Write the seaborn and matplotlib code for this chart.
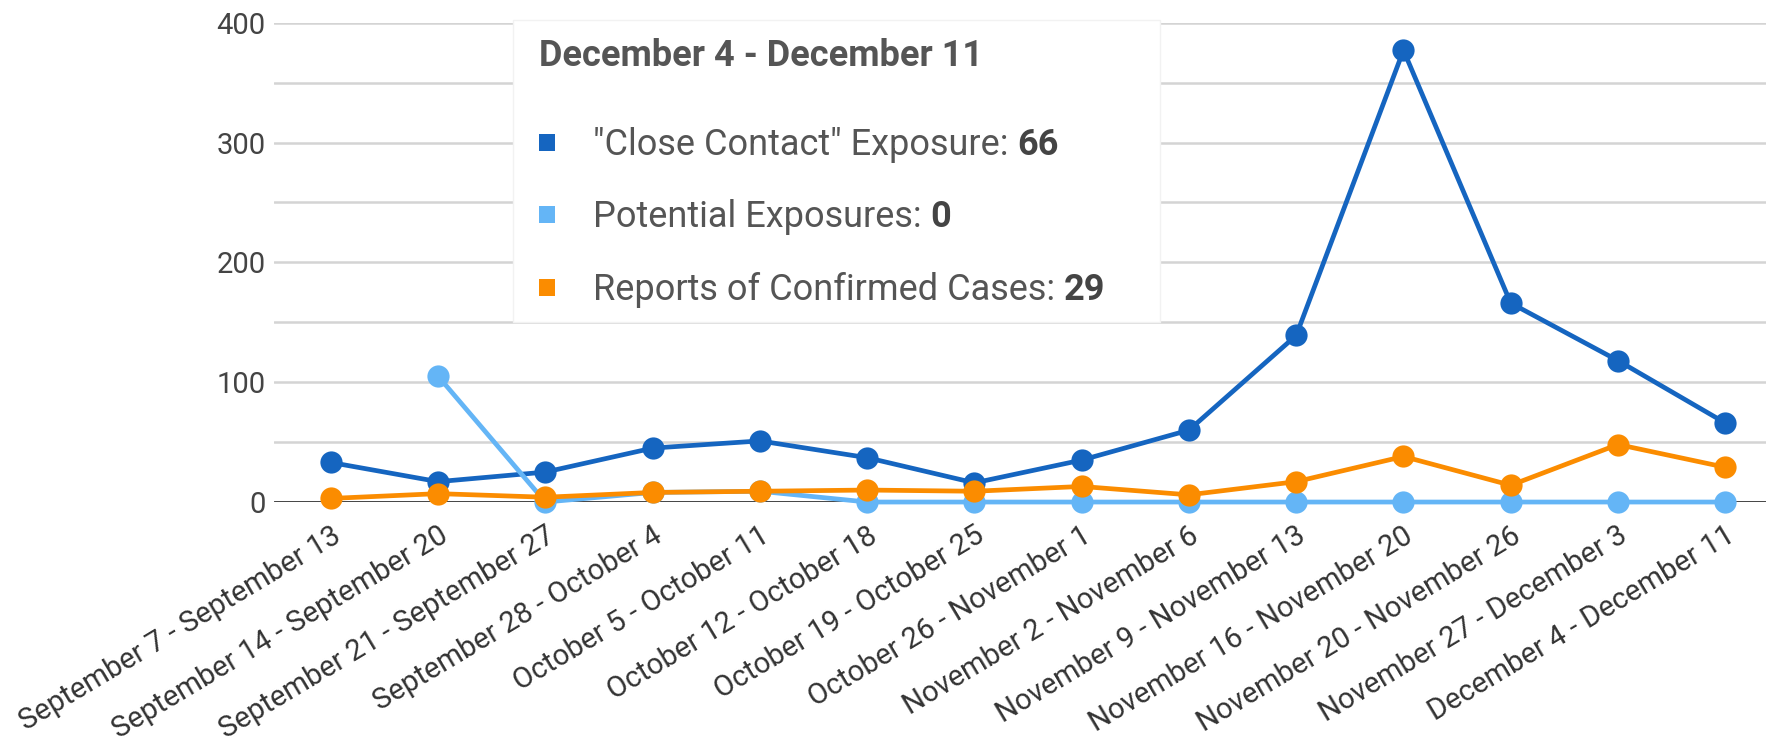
import numpy as np
import pandas as pd
import matplotlib
matplotlib.use("Agg")
import matplotlib.pyplot as plt
from matplotlib.patches import Rectangle
import seaborn as sns

# ==============================================================================
# DATA
# ==============================================================================

weeks = [
    "September 7 - September 13", "September 14 - September 20",
    "September 21 - September 27", "September 28 - October 4",
    "October 5 - October 11", "October 12 - October 18",
    "October 19 - October 25", "October 26 - November 1",
    "November 2 - November 6", "November 9 - November 13",
    "November 16 - November 20", "November 20 - November 26",
    "November 27 - December 3", "December 4 - December 11",
]
close_contact = [33, 17, 25, 45, 51, 37, 16, 35, 60, 139, 377, 166, 118, 66]
potential = [np.nan, 105, 0, 8, 9, 0, 0, 0, 0, 0, 0, 0, 0, 0]
confirmed = [3, 7, 4, 8, 9, 10, 9, 13, 6, 17, 38, 14, 48, 29]

series_names = ['"Close Contact" Exposure', "Potential Exposures", "Reports of Confirmed Cases"]
series_colors = ["#1565c0", "#64b5f6", "#fb8c00"]
y_ticks = [0, 100, 200, 300, 400]

tooltip_title = "December 4 - December 11"
tooltip_values = ["66", "0", "29"]

# ==============================================================================
# PLOT
# ==============================================================================

rows = []
for name, vals in zip(series_names, [close_contact, potential, confirmed]):
    for i, v in enumerate(vals):
        rows.append({"x": i, "value": v, "series": name})
df = pd.DataFrame(rows).dropna()

sns.set_theme(style="white")
plt.rcParams["font.family"] = ["Roboto", "DejaVu Sans"]

fig = plt.figure(figsize=(17.92, 7.41), dpi=100)
ax = fig.add_axes([0.1529, 0.3225, 0.8326, 0.6469])

# gridlines every 50
for g in range(50, 401, 50):
    ax.axhline(g, color="#d4d4d4", lw=1.8, zorder=0)
ax.axhline(0, color="#333333", lw=2.0, zorder=1)

sns.lineplot(
    data=df, x="x", y="value", hue="series", hue_order=series_names,
    palette=series_colors, marker="o", markersize=16, markeredgewidth=0,
    linewidth=3.4, legend=False, ax=ax, clip_on=False, zorder=4,
)

ax.set_xlim(-0.53, 13.38)
ax.set_ylim(0, 400)
ax.set_yticks(y_ticks)
ax.set_yticklabels([str(t) for t in y_ticks], fontsize=21, color="#444444")
ax.set_xticks(range(len(weeks)))
ax.set_xticklabels(weeks, rotation=31, ha="right", va="top",
                   rotation_mode="anchor", fontsize=21, color="#333333")
ax.tick_params(axis="x", length=0, pad=14)
ax.tick_params(axis="y", length=0, pad=6)
ax.set_xlabel("")
ax.set_ylabel("")
for s in ax.spines.values():
    s.set_visible(False)

# tooltip box
W, H = 1792.0, 741.0
box = Rectangle((513 / W, 1 - 322 / H), (1160 - 513) / W, (322 - 20) / H,
                transform=fig.transFigure, facecolor="white",
                edgecolor="#f2f2f2", lw=1, zorder=5)
fig.add_artist(box)
fig.text(539 / W, 1 - 66 / H, tooltip_title, fontsize=26, fontweight="bold",
         color="#555555", va="baseline", zorder=6)

fig.canvas.draw()
renderer = fig.canvas.get_renderer()
row_y = [143, 215, 288]
for name, col, val, yy in zip(series_names, series_colors, tooltip_values, row_y):
    sq = Rectangle((539 / W, 1 - (yy + 8) / H), 16 / W, 17 / H,
                   transform=fig.transFigure, facecolor=col, edgecolor="none", zorder=6)
    fig.add_artist(sq)
    t1 = fig.text(593 / W, 1 - (yy + 12) / H, name + ": ", fontsize=26,
                  color="#555555", va="baseline", zorder=6)
    bb = t1.get_window_extent(renderer)
    fig.text(bb.x1 / W, 1 - (yy + 12) / H, val, fontsize=26, fontweight="bold",
             color="#444444", va="baseline", zorder=6)

fig.savefig("out.png", dpi=100, facecolor="white")
